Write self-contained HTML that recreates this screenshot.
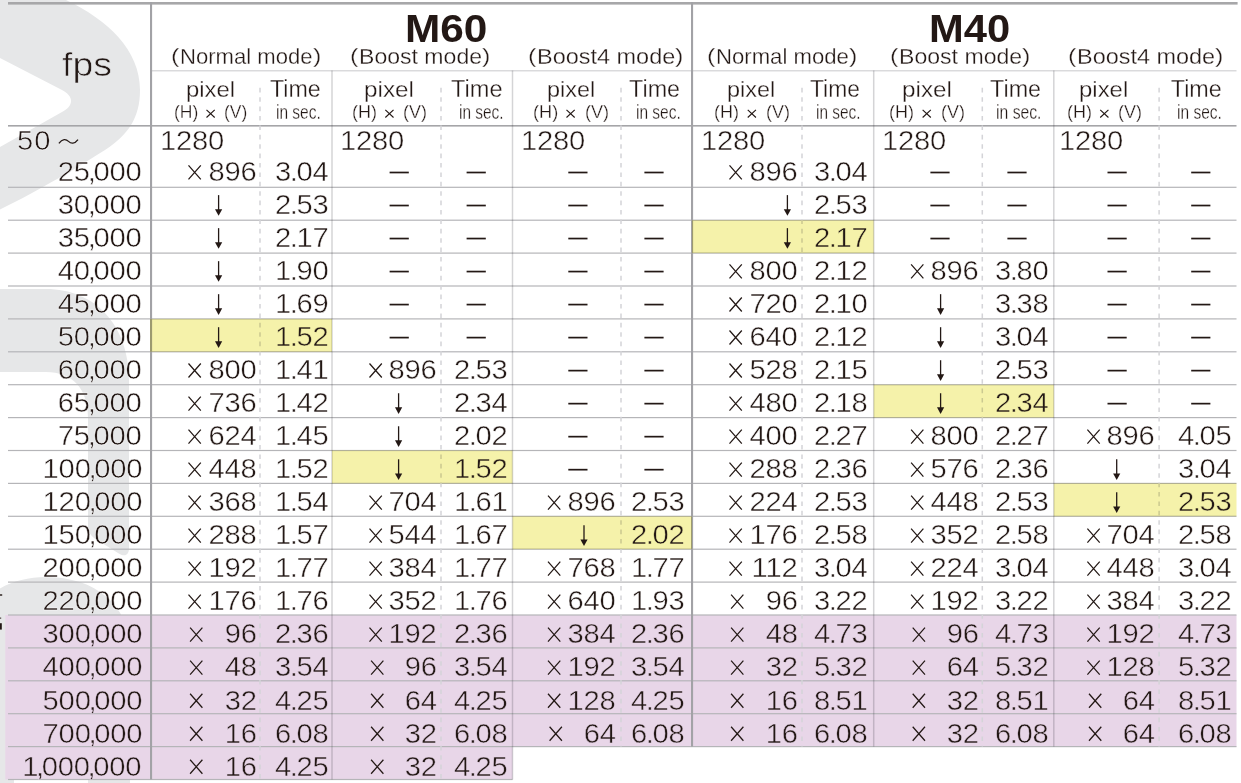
<!DOCTYPE html>
<html><head><meta charset="utf-8"><style>
html,body{margin:0;padding:0;background:#fff;}
body{width:1241px;height:783px;overflow:hidden;position:relative;}
svg{position:absolute;left:0;top:0;}
.t{-webkit-text-stroke:0.3px #fff;position:absolute;white-space:nowrap;font-family:'Liberation Sans',sans-serif;color:#231815;transform-origin:0 0;}
.n{-webkit-text-stroke:0.45px #fff;position:absolute;white-space:nowrap;font-family:'Liberation Sans',sans-serif;color:#231815;font-size:27.0px;line-height:27.0px;letter-spacing:-0.2px;transform:scaleX(1.08);transform-origin:100% 0;}
.n.l{transform-origin:0 0;}
.n.y{-webkit-text-stroke-color:#f5f2aa;}
.n.pp{-webkit-text-stroke-color:#e8d6e8;}
.b{-webkit-text-stroke:0;}
.fps{-webkit-text-stroke:0.6px #e6e7e8;}
.p{margin-left:-1.2px;margin-right:-1.2px;}
.c{margin-left:-2px;margin-right:-2px;}
</style></head><body>
<svg width="1241" height="783" viewBox="0 0 1241 783">
<path fill="#e6e7e8" d="M0,0 L66,0 C108,20 140,50 140,90 C140,118 128,135 105,150 C80,166 40,190 0,209.5 L0,147 L62,112 C74,106 74,96 62,90 L0,58 Z"/>
<path fill="#e6e7e8" d="M0,289 L46,289 C95,289 129,325 129,380 L129,548 C129,556 124,557 118,553 L94,538 C90,535 88,531 88,526 L88,418 C88,388 72,372 46,372 L0,372 Z"/>
<path fill="#e6e7e8" d="M-30,783 L-30,640 C-30,600 5,577 46,577 C95,577 130,605 130,650 L130,783 L88,783 L88,650 C88,630 72,618 51,618 C30,618 14,630 14,650 L14,783 Z"/>
<rect x="0" y="594.3" width="2.2" height="1.4" fill="#231815"/><rect x="0" y="617.6" width="1.2" height="1" fill="#231815"/><rect x="0" y="623.2" width="1.8" height="6.4" fill="#231815"/>
<rect x="5.3" y="615.00" width="1231.20" height="131.60" fill="#e8d6e8"/>
<rect x="5.3" y="746.60" width="507.20" height="32.90" fill="#e8d6e8"/>
<rect x="8" y="2" width="1229.6" height="2.6" fill="#a7a7a9"/>
<rect x="152" y="70.2" width="1084.5" height="1.2" fill="#d2d2d4"/>
<rect x="8" y="125.0" width="1228.5" height="1.6" fill="#a5a5a8"/>
<rect x="8" y="186.70" width="1228.50" height="1.2" fill="#b5b5b8"/>
<rect x="8" y="219.60" width="1228.50" height="1.2" fill="#b5b5b8"/>
<rect x="8" y="252.50" width="1228.50" height="1.2" fill="#b5b5b8"/>
<rect x="8" y="285.40" width="1228.50" height="1.2" fill="#b5b5b8"/>
<rect x="8" y="318.30" width="1228.50" height="1.2" fill="#b5b5b8"/>
<rect x="8" y="351.20" width="1228.50" height="1.2" fill="#b5b5b8"/>
<rect x="8" y="384.10" width="1228.50" height="1.2" fill="#b5b5b8"/>
<rect x="8" y="417.00" width="1228.50" height="1.2" fill="#b5b5b8"/>
<rect x="8" y="449.90" width="1228.50" height="1.2" fill="#b5b5b8"/>
<rect x="8" y="482.80" width="1228.50" height="1.2" fill="#b5b5b8"/>
<rect x="8" y="515.70" width="1228.50" height="1.2" fill="#b5b5b8"/>
<rect x="8" y="548.60" width="1228.50" height="1.2" fill="#b5b5b8"/>
<rect x="8" y="581.50" width="1228.50" height="1.2" fill="#b5b5b8"/>
<rect x="8" y="614.40" width="1228.50" height="1.2" fill="#b5b5b8"/>
<rect x="8" y="647.30" width="1228.50" height="1.2" fill="#b5b5b8"/>
<rect x="8" y="680.20" width="1228.50" height="1.2" fill="#b5b5b8"/>
<rect x="8" y="713.10" width="1228.50" height="1.2" fill="#b5b5b8"/>
<rect x="8" y="746.00" width="1228.50" height="1.2" fill="#b5b5b8"/>
<rect x="8" y="778.90" width="504.50" height="1.2" fill="#b5b5b8"/>
<rect x="150.0" y="2" width="2.1" height="777.50" fill="#a2a2a6"/>
<rect x="691.0" y="2" width="2.1" height="744.60" fill="#a2a2a6"/>
<rect x="331.25" y="70.5" width="1.5" height="709.00" fill="rgba(40,40,50,0.2)"/>
<rect x="511.75" y="70.5" width="1.5" height="709.00" fill="rgba(40,40,50,0.2)"/>
<rect x="872.95" y="70.5" width="1.5" height="676.10" fill="rgba(40,40,50,0.2)"/>
<rect x="1053.05" y="70.5" width="1.5" height="676.10" fill="rgba(40,40,50,0.2)"/>
<line x1="260.00" y1="87.8" x2="260.00" y2="779.50" stroke="#d4d4d8" stroke-width="1.5" stroke-dasharray="4.6 4.8"/>
<line x1="441.00" y1="87.8" x2="441.00" y2="779.50" stroke="#d4d4d8" stroke-width="1.5" stroke-dasharray="4.6 4.8"/>
<line x1="621.00" y1="87.8" x2="621.00" y2="746.60" stroke="#d4d4d8" stroke-width="1.5" stroke-dasharray="4.6 4.8"/>
<line x1="802.00" y1="87.8" x2="802.00" y2="746.60" stroke="#d4d4d8" stroke-width="1.5" stroke-dasharray="4.6 4.8"/>
<line x1="982.30" y1="87.8" x2="982.30" y2="746.60" stroke="#d4d4d8" stroke-width="1.5" stroke-dasharray="4.6 4.8"/>
<line x1="1159.10" y1="87.8" x2="1159.10" y2="746.60" stroke="#d4d4d8" stroke-width="1.5" stroke-dasharray="4.6 4.8"/>
<rect x="692.00" y="220.20" width="181.70" height="32.9" fill="#f5f2aa" style="mix-blend-mode:multiply"/>
<rect x="150.00" y="318.90" width="182.00" height="32.9" fill="#f5f2aa" style="mix-blend-mode:multiply"/>
<rect x="873.70" y="384.70" width="180.10" height="32.9" fill="#f5f2aa" style="mix-blend-mode:multiply"/>
<rect x="332.00" y="450.50" width="180.50" height="32.9" fill="#f5f2aa" style="mix-blend-mode:multiply"/>
<rect x="1053.80" y="483.40" width="182.70" height="32.9" fill="#f5f2aa" style="mix-blend-mode:multiply"/>
<rect x="512.50" y="516.30" width="179.50" height="32.9" fill="#f5f2aa" style="mix-blend-mode:multiply"/>
<path d="M188.50,165.40 L200.80,179.40 M200.80,165.40 L188.50,179.40" stroke="#231815" stroke-width="1.25" fill="none"/>
<rect x="389.60" y="171.65" width="19.2" height="1.7" fill="#231815"/>
<rect x="466.60" y="171.65" width="19.2" height="1.7" fill="#231815"/>
<rect x="568.30" y="171.65" width="19.2" height="1.7" fill="#231815"/>
<rect x="644.40" y="171.65" width="19.2" height="1.7" fill="#231815"/>
<path d="M729.50,165.40 L741.80,179.40 M741.80,165.40 L729.50,179.40" stroke="#231815" stroke-width="1.25" fill="none"/>
<rect x="930.40" y="171.65" width="19.2" height="1.7" fill="#231815"/>
<rect x="1007.40" y="171.65" width="19.2" height="1.7" fill="#231815"/>
<rect x="1107.50" y="171.65" width="19.2" height="1.7" fill="#231815"/>
<rect x="1191.20" y="171.65" width="19.2" height="1.7" fill="#231815"/>
<path d="M218.60,195.12 L218.60,210.82" stroke="#231815" stroke-width="1.3"/>
<path d="M215.00,209.22 L222.20,209.22 L218.60,215.82 Z" fill="#231815"/>
<rect x="389.60" y="204.67" width="19.2" height="1.7" fill="#231815"/>
<rect x="466.60" y="204.67" width="19.2" height="1.7" fill="#231815"/>
<rect x="568.30" y="204.67" width="19.2" height="1.7" fill="#231815"/>
<rect x="644.40" y="204.67" width="19.2" height="1.7" fill="#231815"/>
<path d="M787.40,195.12 L787.40,210.82" stroke="#231815" stroke-width="1.3"/>
<path d="M783.80,209.22 L791.00,209.22 L787.40,215.82 Z" fill="#231815"/>
<rect x="930.40" y="204.67" width="19.2" height="1.7" fill="#231815"/>
<rect x="1007.40" y="204.67" width="19.2" height="1.7" fill="#231815"/>
<rect x="1107.50" y="204.67" width="19.2" height="1.7" fill="#231815"/>
<rect x="1191.20" y="204.67" width="19.2" height="1.7" fill="#231815"/>
<path d="M218.60,228.14 L218.60,243.84" stroke="#231815" stroke-width="1.3"/>
<path d="M215.00,242.24 L222.20,242.24 L218.60,248.84 Z" fill="#231815"/>
<rect x="389.60" y="237.69" width="19.2" height="1.7" fill="#231815"/>
<rect x="466.60" y="237.69" width="19.2" height="1.7" fill="#231815"/>
<rect x="568.30" y="237.69" width="19.2" height="1.7" fill="#231815"/>
<rect x="644.40" y="237.69" width="19.2" height="1.7" fill="#231815"/>
<path d="M787.40,228.14 L787.40,243.84" stroke="#231815" stroke-width="1.3"/>
<path d="M783.80,242.24 L791.00,242.24 L787.40,248.84 Z" fill="#231815"/>
<rect x="930.40" y="237.69" width="19.2" height="1.7" fill="#231815"/>
<rect x="1007.40" y="237.69" width="19.2" height="1.7" fill="#231815"/>
<rect x="1107.50" y="237.69" width="19.2" height="1.7" fill="#231815"/>
<rect x="1191.20" y="237.69" width="19.2" height="1.7" fill="#231815"/>
<path d="M218.60,261.16 L218.60,276.86" stroke="#231815" stroke-width="1.3"/>
<path d="M215.00,275.26 L222.20,275.26 L218.60,281.86 Z" fill="#231815"/>
<rect x="389.60" y="270.71" width="19.2" height="1.7" fill="#231815"/>
<rect x="466.60" y="270.71" width="19.2" height="1.7" fill="#231815"/>
<rect x="568.30" y="270.71" width="19.2" height="1.7" fill="#231815"/>
<rect x="644.40" y="270.71" width="19.2" height="1.7" fill="#231815"/>
<path d="M729.50,264.46 L741.80,278.46 M741.80,264.46 L729.50,278.46" stroke="#231815" stroke-width="1.25" fill="none"/>
<path d="M911.10,264.46 L923.40,278.46 M923.40,264.46 L911.10,278.46" stroke="#231815" stroke-width="1.25" fill="none"/>
<rect x="1107.50" y="270.71" width="19.2" height="1.7" fill="#231815"/>
<rect x="1191.20" y="270.71" width="19.2" height="1.7" fill="#231815"/>
<path d="M218.60,294.18 L218.60,309.88" stroke="#231815" stroke-width="1.3"/>
<path d="M215.00,308.28 L222.20,308.28 L218.60,314.88 Z" fill="#231815"/>
<rect x="389.60" y="303.73" width="19.2" height="1.7" fill="#231815"/>
<rect x="466.60" y="303.73" width="19.2" height="1.7" fill="#231815"/>
<rect x="568.30" y="303.73" width="19.2" height="1.7" fill="#231815"/>
<rect x="644.40" y="303.73" width="19.2" height="1.7" fill="#231815"/>
<path d="M729.50,297.48 L741.80,311.48 M741.80,297.48 L729.50,311.48" stroke="#231815" stroke-width="1.25" fill="none"/>
<path d="M940.60,294.18 L940.60,309.88" stroke="#231815" stroke-width="1.3"/>
<path d="M937.00,308.28 L944.20,308.28 L940.60,314.88 Z" fill="#231815"/>
<rect x="1107.50" y="303.73" width="19.2" height="1.7" fill="#231815"/>
<rect x="1191.20" y="303.73" width="19.2" height="1.7" fill="#231815"/>
<path d="M218.60,327.20 L218.60,342.90" stroke="#231815" stroke-width="1.3"/>
<path d="M215.00,341.30 L222.20,341.30 L218.60,347.90 Z" fill="#231815"/>
<rect x="389.60" y="336.75" width="19.2" height="1.7" fill="#231815"/>
<rect x="466.60" y="336.75" width="19.2" height="1.7" fill="#231815"/>
<rect x="568.30" y="336.75" width="19.2" height="1.7" fill="#231815"/>
<rect x="644.40" y="336.75" width="19.2" height="1.7" fill="#231815"/>
<path d="M729.50,330.50 L741.80,344.50 M741.80,330.50 L729.50,344.50" stroke="#231815" stroke-width="1.25" fill="none"/>
<path d="M940.60,327.20 L940.60,342.90" stroke="#231815" stroke-width="1.3"/>
<path d="M937.00,341.30 L944.20,341.30 L940.60,347.90 Z" fill="#231815"/>
<rect x="1107.50" y="336.75" width="19.2" height="1.7" fill="#231815"/>
<rect x="1191.20" y="336.75" width="19.2" height="1.7" fill="#231815"/>
<path d="M188.50,363.52 L200.80,377.52 M200.80,363.52 L188.50,377.52" stroke="#231815" stroke-width="1.25" fill="none"/>
<path d="M369.50,363.52 L381.80,377.52 M381.80,363.52 L369.50,377.52" stroke="#231815" stroke-width="1.25" fill="none"/>
<rect x="568.30" y="369.77" width="19.2" height="1.7" fill="#231815"/>
<rect x="644.40" y="369.77" width="19.2" height="1.7" fill="#231815"/>
<path d="M729.50,363.52 L741.80,377.52 M741.80,363.52 L729.50,377.52" stroke="#231815" stroke-width="1.25" fill="none"/>
<path d="M940.60,360.22 L940.60,375.92" stroke="#231815" stroke-width="1.3"/>
<path d="M937.00,374.32 L944.20,374.32 L940.60,380.92 Z" fill="#231815"/>
<rect x="1107.50" y="369.77" width="19.2" height="1.7" fill="#231815"/>
<rect x="1191.20" y="369.77" width="19.2" height="1.7" fill="#231815"/>
<path d="M188.50,396.54 L200.80,410.54 M200.80,396.54 L188.50,410.54" stroke="#231815" stroke-width="1.25" fill="none"/>
<path d="M398.60,393.24 L398.60,408.94" stroke="#231815" stroke-width="1.3"/>
<path d="M395.00,407.34 L402.20,407.34 L398.60,413.94 Z" fill="#231815"/>
<rect x="568.30" y="402.79" width="19.2" height="1.7" fill="#231815"/>
<rect x="644.40" y="402.79" width="19.2" height="1.7" fill="#231815"/>
<path d="M729.50,396.54 L741.80,410.54 M741.80,396.54 L729.50,410.54" stroke="#231815" stroke-width="1.25" fill="none"/>
<path d="M940.60,393.24 L940.60,408.94" stroke="#231815" stroke-width="1.3"/>
<path d="M937.00,407.34 L944.20,407.34 L940.60,413.94 Z" fill="#231815"/>
<rect x="1107.50" y="402.79" width="19.2" height="1.7" fill="#231815"/>
<rect x="1191.20" y="402.79" width="19.2" height="1.7" fill="#231815"/>
<path d="M188.50,429.56 L200.80,443.56 M200.80,429.56 L188.50,443.56" stroke="#231815" stroke-width="1.25" fill="none"/>
<path d="M398.60,426.26 L398.60,441.96" stroke="#231815" stroke-width="1.3"/>
<path d="M395.00,440.36 L402.20,440.36 L398.60,446.96 Z" fill="#231815"/>
<rect x="568.30" y="435.81" width="19.2" height="1.7" fill="#231815"/>
<rect x="644.40" y="435.81" width="19.2" height="1.7" fill="#231815"/>
<path d="M729.50,429.56 L741.80,443.56 M741.80,429.56 L729.50,443.56" stroke="#231815" stroke-width="1.25" fill="none"/>
<path d="M911.10,429.56 L923.40,443.56 M923.40,429.56 L911.10,443.56" stroke="#231815" stroke-width="1.25" fill="none"/>
<path d="M1087.40,429.56 L1099.70,443.56 M1099.70,429.56 L1087.40,443.56" stroke="#231815" stroke-width="1.25" fill="none"/>
<path d="M188.50,462.58 L200.80,476.58 M200.80,462.58 L188.50,476.58" stroke="#231815" stroke-width="1.25" fill="none"/>
<path d="M398.60,459.28 L398.60,474.98" stroke="#231815" stroke-width="1.3"/>
<path d="M395.00,473.38 L402.20,473.38 L398.60,479.98 Z" fill="#231815"/>
<rect x="568.30" y="468.83" width="19.2" height="1.7" fill="#231815"/>
<rect x="644.40" y="468.83" width="19.2" height="1.7" fill="#231815"/>
<path d="M729.50,462.58 L741.80,476.58 M741.80,462.58 L729.50,476.58" stroke="#231815" stroke-width="1.25" fill="none"/>
<path d="M911.10,462.58 L923.40,476.58 M923.40,462.58 L911.10,476.58" stroke="#231815" stroke-width="1.25" fill="none"/>
<path d="M1116.70,459.28 L1116.70,474.98" stroke="#231815" stroke-width="1.3"/>
<path d="M1113.10,473.38 L1120.30,473.38 L1116.70,479.98 Z" fill="#231815"/>
<path d="M188.50,495.60 L200.80,509.60 M200.80,495.60 L188.50,509.60" stroke="#231815" stroke-width="1.25" fill="none"/>
<path d="M369.50,495.60 L381.80,509.60 M381.80,495.60 L369.50,509.60" stroke="#231815" stroke-width="1.25" fill="none"/>
<path d="M548.00,495.60 L560.30,509.60 M560.30,495.60 L548.00,509.60" stroke="#231815" stroke-width="1.25" fill="none"/>
<path d="M729.50,495.60 L741.80,509.60 M741.80,495.60 L729.50,509.60" stroke="#231815" stroke-width="1.25" fill="none"/>
<path d="M911.10,495.60 L923.40,509.60 M923.40,495.60 L911.10,509.60" stroke="#231815" stroke-width="1.25" fill="none"/>
<path d="M1116.70,492.30 L1116.70,508.00" stroke="#231815" stroke-width="1.3"/>
<path d="M1113.10,506.40 L1120.30,506.40 L1116.70,513.00 Z" fill="#231815"/>
<path d="M188.50,528.62 L200.80,542.62 M200.80,528.62 L188.50,542.62" stroke="#231815" stroke-width="1.25" fill="none"/>
<path d="M369.50,528.62 L381.80,542.62 M381.80,528.62 L369.50,542.62" stroke="#231815" stroke-width="1.25" fill="none"/>
<path d="M584.00,525.32 L584.00,541.02" stroke="#231815" stroke-width="1.3"/>
<path d="M580.40,539.42 L587.60,539.42 L584.00,546.02 Z" fill="#231815"/>
<path d="M729.50,528.62 L741.80,542.62 M741.80,528.62 L729.50,542.62" stroke="#231815" stroke-width="1.25" fill="none"/>
<path d="M911.10,528.62 L923.40,542.62 M923.40,528.62 L911.10,542.62" stroke="#231815" stroke-width="1.25" fill="none"/>
<path d="M1087.40,528.62 L1099.70,542.62 M1099.70,528.62 L1087.40,542.62" stroke="#231815" stroke-width="1.25" fill="none"/>
<path d="M188.50,561.64 L200.80,575.64 M200.80,561.64 L188.50,575.64" stroke="#231815" stroke-width="1.25" fill="none"/>
<path d="M369.50,561.64 L381.80,575.64 M381.80,561.64 L369.50,575.64" stroke="#231815" stroke-width="1.25" fill="none"/>
<path d="M548.00,561.64 L560.30,575.64 M560.30,561.64 L548.00,575.64" stroke="#231815" stroke-width="1.25" fill="none"/>
<path d="M729.50,561.64 L741.80,575.64 M741.80,561.64 L729.50,575.64" stroke="#231815" stroke-width="1.25" fill="none"/>
<path d="M911.10,561.64 L923.40,575.64 M923.40,561.64 L911.10,575.64" stroke="#231815" stroke-width="1.25" fill="none"/>
<path d="M1087.40,561.64 L1099.70,575.64 M1099.70,561.64 L1087.40,575.64" stroke="#231815" stroke-width="1.25" fill="none"/>
<path d="M188.50,594.66 L200.80,608.66 M200.80,594.66 L188.50,608.66" stroke="#231815" stroke-width="1.25" fill="none"/>
<path d="M369.50,594.66 L381.80,608.66 M381.80,594.66 L369.50,608.66" stroke="#231815" stroke-width="1.25" fill="none"/>
<path d="M548.00,594.66 L560.30,608.66 M560.30,594.66 L548.00,608.66" stroke="#231815" stroke-width="1.25" fill="none"/>
<path d="M731.10,594.66 L743.40,608.66 M743.40,594.66 L731.10,608.66" stroke="#231815" stroke-width="1.25" fill="none"/>
<path d="M911.10,594.66 L923.40,608.66 M923.40,594.66 L911.10,608.66" stroke="#231815" stroke-width="1.25" fill="none"/>
<path d="M1087.40,594.66 L1099.70,608.66 M1099.70,594.66 L1087.40,608.66" stroke="#231815" stroke-width="1.25" fill="none"/>
<path d="M190.10,627.68 L202.40,641.68 M202.40,627.68 L190.10,641.68" stroke="#231815" stroke-width="1.25" fill="none"/>
<path d="M369.50,627.68 L381.80,641.68 M381.80,627.68 L369.50,641.68" stroke="#231815" stroke-width="1.25" fill="none"/>
<path d="M548.00,627.68 L560.30,641.68 M560.30,627.68 L548.00,641.68" stroke="#231815" stroke-width="1.25" fill="none"/>
<path d="M731.10,627.68 L743.40,641.68 M743.40,627.68 L731.10,641.68" stroke="#231815" stroke-width="1.25" fill="none"/>
<path d="M912.70,627.68 L925.00,641.68 M925.00,627.68 L912.70,641.68" stroke="#231815" stroke-width="1.25" fill="none"/>
<path d="M1087.40,627.68 L1099.70,641.68 M1099.70,627.68 L1087.40,641.68" stroke="#231815" stroke-width="1.25" fill="none"/>
<path d="M190.10,660.70 L202.40,674.70 M202.40,660.70 L190.10,674.70" stroke="#231815" stroke-width="1.25" fill="none"/>
<path d="M371.10,660.70 L383.40,674.70 M383.40,660.70 L371.10,674.70" stroke="#231815" stroke-width="1.25" fill="none"/>
<path d="M548.00,660.70 L560.30,674.70 M560.30,660.70 L548.00,674.70" stroke="#231815" stroke-width="1.25" fill="none"/>
<path d="M731.10,660.70 L743.40,674.70 M743.40,660.70 L731.10,674.70" stroke="#231815" stroke-width="1.25" fill="none"/>
<path d="M912.70,660.70 L925.00,674.70 M925.00,660.70 L912.70,674.70" stroke="#231815" stroke-width="1.25" fill="none"/>
<path d="M1087.40,660.70 L1099.70,674.70 M1099.70,660.70 L1087.40,674.70" stroke="#231815" stroke-width="1.25" fill="none"/>
<path d="M190.10,693.72 L202.40,707.72 M202.40,693.72 L190.10,707.72" stroke="#231815" stroke-width="1.25" fill="none"/>
<path d="M371.10,693.72 L383.40,707.72 M383.40,693.72 L371.10,707.72" stroke="#231815" stroke-width="1.25" fill="none"/>
<path d="M548.00,693.72 L560.30,707.72 M560.30,693.72 L548.00,707.72" stroke="#231815" stroke-width="1.25" fill="none"/>
<path d="M731.10,693.72 L743.40,707.72 M743.40,693.72 L731.10,707.72" stroke="#231815" stroke-width="1.25" fill="none"/>
<path d="M912.70,693.72 L925.00,707.72 M925.00,693.72 L912.70,707.72" stroke="#231815" stroke-width="1.25" fill="none"/>
<path d="M1089.00,693.72 L1101.30,707.72 M1101.30,693.72 L1089.00,707.72" stroke="#231815" stroke-width="1.25" fill="none"/>
<path d="M190.10,726.74 L202.40,740.74 M202.40,726.74 L190.10,740.74" stroke="#231815" stroke-width="1.25" fill="none"/>
<path d="M371.10,726.74 L383.40,740.74 M383.40,726.74 L371.10,740.74" stroke="#231815" stroke-width="1.25" fill="none"/>
<path d="M549.60,726.74 L561.90,740.74 M561.90,726.74 L549.60,740.74" stroke="#231815" stroke-width="1.25" fill="none"/>
<path d="M731.10,726.74 L743.40,740.74 M743.40,726.74 L731.10,740.74" stroke="#231815" stroke-width="1.25" fill="none"/>
<path d="M912.70,726.74 L925.00,740.74 M925.00,726.74 L912.70,740.74" stroke="#231815" stroke-width="1.25" fill="none"/>
<path d="M1089.00,726.74 L1101.30,740.74 M1101.30,726.74 L1089.00,740.74" stroke="#231815" stroke-width="1.25" fill="none"/>
<path d="M190.10,759.76 L202.40,773.76 M202.40,759.76 L190.10,773.76" stroke="#231815" stroke-width="1.25" fill="none"/>
<path d="M371.10,759.76 L383.40,773.76 M383.40,759.76 L371.10,773.76" stroke="#231815" stroke-width="1.25" fill="none"/>
<path d="M58.9,143.4 C62.5,138.6 66,139 68.5,141.4 C71,143.8 74.5,144.2 78,139.6" stroke="#231815" stroke-width="1.3" fill="none"/>
<path d="M206.50,109.90 L214.70,117.50 M214.70,109.90 L206.50,117.50" stroke="#231815" stroke-width="1.15" fill="none"/>
<path d="M385.33,109.90 L393.53,117.50 M393.53,109.90 L385.33,117.50" stroke="#231815" stroke-width="1.15" fill="none"/>
<path d="M566.49,109.90 L574.69,117.50 M574.69,109.90 L566.49,117.50" stroke="#231815" stroke-width="1.15" fill="none"/>
<path d="M747.73,109.90 L755.93,117.50 M755.93,109.90 L747.73,117.50" stroke="#231815" stroke-width="1.15" fill="none"/>
<path d="M922.63,109.90 L930.83,117.50 M930.83,109.90 L922.63,117.50" stroke="#231815" stroke-width="1.15" fill="none"/>
<path d="M1100.23,109.90 L1108.43,117.50 M1108.43,109.90 L1100.23,117.50" stroke="#231815" stroke-width="1.15" fill="none"/>
</svg>
<div class="n" style="right:1099.20px;top:159.18px;">25<span class="c">,</span>000</div>
<div class="n" style="right:984.40px;top:159.18px;">896</div>
<div class="n" style="right:912.20px;top:159.18px;">3<span class="p">.</span>04</div>
<div class="n" style="right:443.50px;top:159.18px;">896</div>
<div class="n" style="right:373.20px;top:159.18px;">3<span class="p">.</span>04</div>
<div class="n" style="right:1099.20px;top:192.20px;">30<span class="c">,</span>000</div>
<div class="n" style="right:912.20px;top:192.20px;">2<span class="p">.</span>53</div>
<div class="n" style="right:373.20px;top:192.20px;">2<span class="p">.</span>53</div>
<div class="n" style="right:1099.20px;top:225.22px;">35<span class="c">,</span>000</div>
<div class="n" style="right:912.20px;top:225.22px;">2<span class="p">.</span>17</div>
<div class="n y" style="right:373.20px;top:225.22px;">2<span class="p">.</span>17</div>
<div class="n" style="right:1099.20px;top:258.24px;">40<span class="c">,</span>000</div>
<div class="n" style="right:912.20px;top:258.24px;">1<span class="p">.</span>90</div>
<div class="n" style="right:443.50px;top:258.24px;">800</div>
<div class="n" style="right:373.20px;top:258.24px;">2<span class="p">.</span>12</div>
<div class="n" style="right:262.10px;top:258.24px;">896</div>
<div class="n" style="right:192.70px;top:258.24px;">3<span class="p">.</span>80</div>
<div class="n" style="right:1099.20px;top:291.26px;">45<span class="c">,</span>000</div>
<div class="n" style="right:912.20px;top:291.26px;">1<span class="p">.</span>69</div>
<div class="n" style="right:443.50px;top:291.26px;">720</div>
<div class="n" style="right:373.20px;top:291.26px;">2<span class="p">.</span>10</div>
<div class="n" style="right:192.70px;top:291.26px;">3<span class="p">.</span>38</div>
<div class="n" style="right:1099.20px;top:324.28px;">50<span class="c">,</span>000</div>
<div class="n y" style="right:912.20px;top:324.28px;">1<span class="p">.</span>52</div>
<div class="n" style="right:443.50px;top:324.28px;">640</div>
<div class="n" style="right:373.20px;top:324.28px;">2<span class="p">.</span>12</div>
<div class="n" style="right:192.70px;top:324.28px;">3<span class="p">.</span>04</div>
<div class="n" style="right:1099.20px;top:357.30px;">60<span class="c">,</span>000</div>
<div class="n" style="right:984.40px;top:357.30px;">800</div>
<div class="n" style="right:912.20px;top:357.30px;">1<span class="p">.</span>41</div>
<div class="n" style="right:804.40px;top:357.30px;">896</div>
<div class="n" style="right:733.20px;top:357.30px;">2<span class="p">.</span>53</div>
<div class="n" style="right:443.50px;top:357.30px;">528</div>
<div class="n" style="right:373.20px;top:357.30px;">2<span class="p">.</span>15</div>
<div class="n" style="right:192.70px;top:357.30px;">2<span class="p">.</span>53</div>
<div class="n" style="right:1099.20px;top:390.32px;">65<span class="c">,</span>000</div>
<div class="n" style="right:984.40px;top:390.32px;">736</div>
<div class="n" style="right:912.20px;top:390.32px;">1<span class="p">.</span>42</div>
<div class="n" style="right:733.20px;top:390.32px;">2<span class="p">.</span>34</div>
<div class="n" style="right:443.50px;top:390.32px;">480</div>
<div class="n" style="right:373.20px;top:390.32px;">2<span class="p">.</span>18</div>
<div class="n y" style="right:192.70px;top:390.32px;">2<span class="p">.</span>34</div>
<div class="n" style="right:1099.20px;top:423.34px;">75<span class="c">,</span>000</div>
<div class="n" style="right:984.40px;top:423.34px;">624</div>
<div class="n" style="right:912.20px;top:423.34px;">1<span class="p">.</span>45</div>
<div class="n" style="right:733.20px;top:423.34px;">2<span class="p">.</span>02</div>
<div class="n" style="right:443.50px;top:423.34px;">400</div>
<div class="n" style="right:373.20px;top:423.34px;">2<span class="p">.</span>27</div>
<div class="n" style="right:262.10px;top:423.34px;">800</div>
<div class="n" style="right:192.70px;top:423.34px;">2<span class="p">.</span>27</div>
<div class="n" style="right:86.60px;top:423.34px;">896</div>
<div class="n" style="right:9.30px;top:423.34px;">4<span class="p">.</span>05</div>
<div class="n" style="right:1099.20px;top:456.36px;">100<span class="c">,</span>000</div>
<div class="n" style="right:984.40px;top:456.36px;">448</div>
<div class="n" style="right:912.20px;top:456.36px;">1<span class="p">.</span>52</div>
<div class="n y" style="right:733.20px;top:456.36px;">1<span class="p">.</span>52</div>
<div class="n" style="right:443.50px;top:456.36px;">288</div>
<div class="n" style="right:373.20px;top:456.36px;">2<span class="p">.</span>36</div>
<div class="n" style="right:262.10px;top:456.36px;">576</div>
<div class="n" style="right:192.70px;top:456.36px;">2<span class="p">.</span>36</div>
<div class="n" style="right:9.30px;top:456.36px;">3<span class="p">.</span>04</div>
<div class="n" style="right:1099.20px;top:489.38px;">120<span class="c">,</span>000</div>
<div class="n" style="right:984.40px;top:489.38px;">368</div>
<div class="n" style="right:912.20px;top:489.38px;">1<span class="p">.</span>54</div>
<div class="n" style="right:804.40px;top:489.38px;">704</div>
<div class="n" style="right:733.20px;top:489.38px;">1<span class="p">.</span>61</div>
<div class="n" style="right:625.10px;top:489.38px;">896</div>
<div class="n" style="right:556.20px;top:489.38px;">2<span class="p">.</span>53</div>
<div class="n" style="right:443.50px;top:489.38px;">224</div>
<div class="n" style="right:373.20px;top:489.38px;">2<span class="p">.</span>53</div>
<div class="n" style="right:262.10px;top:489.38px;">448</div>
<div class="n" style="right:192.70px;top:489.38px;">2<span class="p">.</span>53</div>
<div class="n y" style="right:9.30px;top:489.38px;">2<span class="p">.</span>53</div>
<div class="n" style="right:1099.20px;top:522.40px;">150<span class="c">,</span>000</div>
<div class="n" style="right:984.40px;top:522.40px;">288</div>
<div class="n" style="right:912.20px;top:522.40px;">1<span class="p">.</span>57</div>
<div class="n" style="right:804.40px;top:522.40px;">544</div>
<div class="n" style="right:733.20px;top:522.40px;">1<span class="p">.</span>67</div>
<div class="n y" style="right:556.20px;top:522.40px;">2<span class="p">.</span>02</div>
<div class="n" style="right:443.50px;top:522.40px;">176</div>
<div class="n" style="right:373.20px;top:522.40px;">2<span class="p">.</span>58</div>
<div class="n" style="right:262.10px;top:522.40px;">352</div>
<div class="n" style="right:192.70px;top:522.40px;">2<span class="p">.</span>58</div>
<div class="n" style="right:86.60px;top:522.40px;">704</div>
<div class="n" style="right:9.30px;top:522.40px;">2<span class="p">.</span>58</div>
<div class="n" style="right:1099.20px;top:555.42px;">200<span class="c">,</span>000</div>
<div class="n" style="right:984.40px;top:555.42px;">192</div>
<div class="n" style="right:912.20px;top:555.42px;">1<span class="p">.</span>77</div>
<div class="n" style="right:804.40px;top:555.42px;">384</div>
<div class="n" style="right:733.20px;top:555.42px;">1<span class="p">.</span>77</div>
<div class="n" style="right:625.10px;top:555.42px;">768</div>
<div class="n" style="right:556.20px;top:555.42px;">1<span class="p">.</span>77</div>
<div class="n" style="right:443.50px;top:555.42px;">112</div>
<div class="n" style="right:373.20px;top:555.42px;">3<span class="p">.</span>04</div>
<div class="n" style="right:262.10px;top:555.42px;">224</div>
<div class="n" style="right:192.70px;top:555.42px;">3<span class="p">.</span>04</div>
<div class="n" style="right:86.60px;top:555.42px;">448</div>
<div class="n" style="right:9.30px;top:555.42px;">3<span class="p">.</span>04</div>
<div class="n" style="right:1099.20px;top:588.44px;">220<span class="c">,</span>000</div>
<div class="n" style="right:984.40px;top:588.44px;">176</div>
<div class="n" style="right:912.20px;top:588.44px;">1<span class="p">.</span>76</div>
<div class="n" style="right:804.40px;top:588.44px;">352</div>
<div class="n" style="right:733.20px;top:588.44px;">1<span class="p">.</span>76</div>
<div class="n" style="right:625.10px;top:588.44px;">640</div>
<div class="n" style="right:556.20px;top:588.44px;">1<span class="p">.</span>93</div>
<div class="n" style="right:443.50px;top:588.44px;">96</div>
<div class="n" style="right:373.20px;top:588.44px;">3<span class="p">.</span>22</div>
<div class="n" style="right:262.10px;top:588.44px;">192</div>
<div class="n" style="right:192.70px;top:588.44px;">3<span class="p">.</span>22</div>
<div class="n" style="right:86.60px;top:588.44px;">384</div>
<div class="n" style="right:9.30px;top:588.44px;">3<span class="p">.</span>22</div>
<div class="n pp" style="right:1099.20px;top:621.46px;">300<span class="c">,</span>000</div>
<div class="n pp" style="right:984.40px;top:621.46px;">96</div>
<div class="n pp" style="right:912.20px;top:621.46px;">2<span class="p">.</span>36</div>
<div class="n pp" style="right:804.40px;top:621.46px;">192</div>
<div class="n pp" style="right:733.20px;top:621.46px;">2<span class="p">.</span>36</div>
<div class="n pp" style="right:625.10px;top:621.46px;">384</div>
<div class="n pp" style="right:556.20px;top:621.46px;">2<span class="p">.</span>36</div>
<div class="n pp" style="right:443.50px;top:621.46px;">48</div>
<div class="n pp" style="right:373.20px;top:621.46px;">4<span class="p">.</span>73</div>
<div class="n pp" style="right:262.10px;top:621.46px;">96</div>
<div class="n pp" style="right:192.70px;top:621.46px;">4<span class="p">.</span>73</div>
<div class="n pp" style="right:86.60px;top:621.46px;">192</div>
<div class="n pp" style="right:9.30px;top:621.46px;">4<span class="p">.</span>73</div>
<div class="n pp" style="right:1099.20px;top:654.48px;">400<span class="c">,</span>000</div>
<div class="n pp" style="right:984.40px;top:654.48px;">48</div>
<div class="n pp" style="right:912.20px;top:654.48px;">3<span class="p">.</span>54</div>
<div class="n pp" style="right:804.40px;top:654.48px;">96</div>
<div class="n pp" style="right:733.20px;top:654.48px;">3<span class="p">.</span>54</div>
<div class="n pp" style="right:625.10px;top:654.48px;">192</div>
<div class="n pp" style="right:556.20px;top:654.48px;">3<span class="p">.</span>54</div>
<div class="n pp" style="right:443.50px;top:654.48px;">32</div>
<div class="n pp" style="right:373.20px;top:654.48px;">5<span class="p">.</span>32</div>
<div class="n pp" style="right:262.10px;top:654.48px;">64</div>
<div class="n pp" style="right:192.70px;top:654.48px;">5<span class="p">.</span>32</div>
<div class="n pp" style="right:86.60px;top:654.48px;">128</div>
<div class="n pp" style="right:9.30px;top:654.48px;">5<span class="p">.</span>32</div>
<div class="n pp" style="right:1099.20px;top:687.50px;">500<span class="c">,</span>000</div>
<div class="n pp" style="right:984.40px;top:687.50px;">32</div>
<div class="n pp" style="right:912.20px;top:687.50px;">4<span class="p">.</span>25</div>
<div class="n pp" style="right:804.40px;top:687.50px;">64</div>
<div class="n pp" style="right:733.20px;top:687.50px;">4<span class="p">.</span>25</div>
<div class="n pp" style="right:625.10px;top:687.50px;">128</div>
<div class="n pp" style="right:556.20px;top:687.50px;">4<span class="p">.</span>25</div>
<div class="n pp" style="right:443.50px;top:687.50px;">16</div>
<div class="n pp" style="right:373.20px;top:687.50px;">8<span class="p">.</span>51</div>
<div class="n pp" style="right:262.10px;top:687.50px;">32</div>
<div class="n pp" style="right:192.70px;top:687.50px;">8<span class="p">.</span>51</div>
<div class="n pp" style="right:86.60px;top:687.50px;">64</div>
<div class="n pp" style="right:9.30px;top:687.50px;">8<span class="p">.</span>51</div>
<div class="n pp" style="right:1099.20px;top:720.52px;">700<span class="c">,</span>000</div>
<div class="n pp" style="right:984.40px;top:720.52px;">16</div>
<div class="n pp" style="right:912.20px;top:720.52px;">6<span class="p">.</span>08</div>
<div class="n pp" style="right:804.40px;top:720.52px;">32</div>
<div class="n pp" style="right:733.20px;top:720.52px;">6<span class="p">.</span>08</div>
<div class="n pp" style="right:625.10px;top:720.52px;">64</div>
<div class="n pp" style="right:556.20px;top:720.52px;">6<span class="p">.</span>08</div>
<div class="n pp" style="right:443.50px;top:720.52px;">16</div>
<div class="n pp" style="right:373.20px;top:720.52px;">6<span class="p">.</span>08</div>
<div class="n pp" style="right:262.10px;top:720.52px;">32</div>
<div class="n pp" style="right:192.70px;top:720.52px;">6<span class="p">.</span>08</div>
<div class="n pp" style="right:86.60px;top:720.52px;">64</div>
<div class="n pp" style="right:9.30px;top:720.52px;">6<span class="p">.</span>08</div>
<div class="n pp" style="right:1099.20px;top:753.54px;">1<span class="c">,</span>000<span class="c">,</span>000</div>
<div class="n pp" style="right:984.40px;top:753.54px;">16</div>
<div class="n pp" style="right:912.20px;top:753.54px;">4<span class="p">.</span>25</div>
<div class="n pp" style="right:804.40px;top:753.54px;">32</div>
<div class="n pp" style="right:733.20px;top:753.54px;">4<span class="p">.</span>25</div>
<div class="n l" style="left:159.97px;top:127.98px;">1280</div>
<div class="n l" style="left:339.67px;top:127.98px;">1280</div>
<div class="n l" style="left:520.67px;top:127.98px;">1280</div>
<div class="n l" style="left:701.27px;top:127.98px;">1280</div>
<div class="n l" style="left:881.67px;top:127.98px;">1280</div>
<div class="n l" style="left:1059.17px;top:127.98px;">1280</div>
<div class="n l" style="left:16.67px;top:127.78px;letter-spacing:0.9px;">50</div>
<div class="t fps" style="left:61.86px;top:49px;font-size:32.69px;line-height:32.69px;font-weight:400;transform:scaleX(1.1439);">fps</div>
<div class="t b" style="left:405.15px;top:9px;font-size:39.13px;line-height:39.13px;font-weight:700;transform:scaleX(1.0831);">M60</div>
<div class="t b" style="left:929.48px;top:10px;font-size:38.84px;line-height:38.84px;font-weight:700;transform:scaleX(1.0746);">M40</div>
<div class="t" style="left:170.98px;top:46px;font-size:20.64px;line-height:20.64px;font-weight:400;transform:scaleX(1.2200);">(</div>
<div class="t" style="left:312.98px;top:46px;font-size:20.64px;line-height:20.64px;font-weight:400;transform:scaleX(1.2200);">)</div>
<div class="t" style="left:179.96px;top:45px;font-size:22.75px;line-height:22.75px;font-weight:400;transform:scaleX(0.9701);">Normal mode</div>
<div class="t" style="left:350.08px;top:46px;font-size:20.64px;line-height:20.64px;font-weight:400;transform:scaleX(1.2200);">(</div>
<div class="t" style="left:481.68px;top:46px;font-size:20.64px;line-height:20.64px;font-weight:400;transform:scaleX(1.2200);">)</div>
<div class="t" style="left:358.97px;top:45px;font-size:22.75px;line-height:22.75px;font-weight:400;transform:scaleX(1.0136);">Boost mode</div>
<div class="t" style="left:527.78px;top:46px;font-size:20.64px;line-height:20.64px;font-weight:400;transform:scaleX(1.2200);">(</div>
<div class="t" style="left:674.88px;top:46px;font-size:20.64px;line-height:20.64px;font-weight:400;transform:scaleX(1.2200);">)</div>
<div class="t" style="left:536.64px;top:45px;font-size:22.75px;line-height:22.75px;font-weight:400;transform:scaleX(1.0313);">Boost4 mode</div>
<div class="t" style="left:706.98px;top:46px;font-size:20.64px;line-height:20.64px;font-weight:400;transform:scaleX(1.2200);">(</div>
<div class="t" style="left:849.38px;top:46px;font-size:20.64px;line-height:20.64px;font-weight:400;transform:scaleX(1.2200);">)</div>
<div class="t" style="left:715.95px;top:45px;font-size:22.75px;line-height:22.75px;font-weight:400;transform:scaleX(0.9731);">Normal mode</div>
<div class="t" style="left:890.38px;top:46px;font-size:20.64px;line-height:20.64px;font-weight:400;transform:scaleX(1.2200);">(</div>
<div class="t" style="left:1022.08px;top:46px;font-size:20.64px;line-height:20.64px;font-weight:400;transform:scaleX(1.2200);">)</div>
<div class="t" style="left:899.27px;top:45px;font-size:22.75px;line-height:22.75px;font-weight:400;transform:scaleX(1.0144);">Boost mode</div>
<div class="t" style="left:1067.98px;top:46px;font-size:20.64px;line-height:20.64px;font-weight:400;transform:scaleX(1.2200);">(</div>
<div class="t" style="left:1214.98px;top:46px;font-size:20.64px;line-height:20.64px;font-weight:400;transform:scaleX(1.2200);">)</div>
<div class="t" style="left:1076.84px;top:45px;font-size:22.75px;line-height:22.75px;font-weight:400;transform:scaleX(1.0305);">Boost4 mode</div>
<div class="t" style="left:185.55px;top:79px;font-size:22.21px;line-height:22.21px;font-weight:400;transform:scaleX(1.0762);">pixel</div>
<div class="t" style="left:270.10px;top:78px;font-size:23.33px;line-height:23.33px;font-weight:400;transform:scaleX(0.9959);">Time</div>
<div class="t" style="left:173.83px;top:103px;font-size:18.09px;line-height:18.09px;font-weight:400;transform:scaleX(0.9696);">(H)</div>
<div class="t" style="left:224.13px;top:103px;font-size:18.09px;line-height:18.09px;font-weight:400;transform:scaleX(0.9682);">(V)</div>
<div class="t" style="left:276.34px;top:102px;font-size:20.28px;line-height:20.28px;font-weight:400;transform:scaleX(0.7643);">in sec.</div>
<div class="t" style="left:364.41px;top:79px;font-size:22.21px;line-height:22.21px;font-weight:400;transform:scaleX(1.0929);">pixel</div>
<div class="t" style="left:451.29px;top:78px;font-size:23.33px;line-height:23.33px;font-weight:400;transform:scaleX(1.0122);">Time</div>
<div class="t" style="left:351.80px;top:103px;font-size:18.09px;line-height:18.09px;font-weight:400;transform:scaleX(0.9953);">(H)</div>
<div class="t" style="left:403.44px;top:103px;font-size:18.09px;line-height:18.09px;font-weight:400;transform:scaleX(0.9939);">(V)</div>
<div class="t" style="left:458.54px;top:102px;font-size:20.28px;line-height:20.28px;font-weight:400;transform:scaleX(0.7607);">in sec.</div>
<div class="t" style="left:546.89px;top:79px;font-size:22.21px;line-height:22.21px;font-weight:400;transform:scaleX(1.0571);">pixel</div>
<div class="t" style="left:629.10px;top:78px;font-size:23.33px;line-height:23.33px;font-weight:400;transform:scaleX(1.0000);">Time</div>
<div class="t" style="left:532.70px;top:103px;font-size:18.09px;line-height:18.09px;font-weight:400;transform:scaleX(1.0034);">(H)</div>
<div class="t" style="left:584.75px;top:103px;font-size:18.09px;line-height:18.09px;font-weight:400;transform:scaleX(1.0020);">(V)</div>
<div class="t" style="left:635.54px;top:102px;font-size:20.28px;line-height:20.28px;font-weight:400;transform:scaleX(0.7643);">in sec.</div>
<div class="t" style="left:727.49px;top:79px;font-size:22.21px;line-height:22.21px;font-weight:400;transform:scaleX(1.0571);">pixel</div>
<div class="t" style="left:809.82px;top:78px;font-size:23.33px;line-height:23.33px;font-weight:400;transform:scaleX(0.9796);">Time</div>
<div class="t" style="left:714.20px;top:103px;font-size:18.09px;line-height:18.09px;font-weight:400;transform:scaleX(0.9953);">(H)</div>
<div class="t" style="left:765.84px;top:103px;font-size:18.09px;line-height:18.09px;font-weight:400;transform:scaleX(0.9939);">(V)</div>
<div class="t" style="left:815.54px;top:102px;font-size:20.28px;line-height:20.28px;font-weight:400;transform:scaleX(0.7589);">in sec.</div>
<div class="t" style="left:901.71px;top:79px;font-size:22.21px;line-height:22.21px;font-weight:400;transform:scaleX(1.0929);">pixel</div>
<div class="t" style="left:990.10px;top:78px;font-size:23.33px;line-height:23.33px;font-weight:400;transform:scaleX(1.0000);">Time</div>
<div class="t" style="left:889.10px;top:103px;font-size:18.09px;line-height:18.09px;font-weight:400;transform:scaleX(0.9953);">(H)</div>
<div class="t" style="left:940.74px;top:103px;font-size:18.09px;line-height:18.09px;font-weight:400;transform:scaleX(0.9939);">(V)</div>
<div class="t" style="left:995.82px;top:102px;font-size:20.28px;line-height:20.28px;font-weight:400;transform:scaleX(0.7768);">in sec.</div>
<div class="t" style="left:1079.34px;top:79px;font-size:22.21px;line-height:22.21px;font-weight:400;transform:scaleX(1.0786);">pixel</div>
<div class="t" style="left:1170.80px;top:78px;font-size:23.33px;line-height:23.33px;font-weight:400;transform:scaleX(1.0000);">Time</div>
<div class="t" style="left:1066.70px;top:103px;font-size:18.09px;line-height:18.09px;font-weight:400;transform:scaleX(0.9953);">(H)</div>
<div class="t" style="left:1118.34px;top:103px;font-size:18.09px;line-height:18.09px;font-weight:400;transform:scaleX(0.9939);">(V)</div>
<div class="t" style="left:1177.13px;top:102px;font-size:20.28px;line-height:20.28px;font-weight:400;transform:scaleX(0.7661);">in sec.</div>
</body></html>
